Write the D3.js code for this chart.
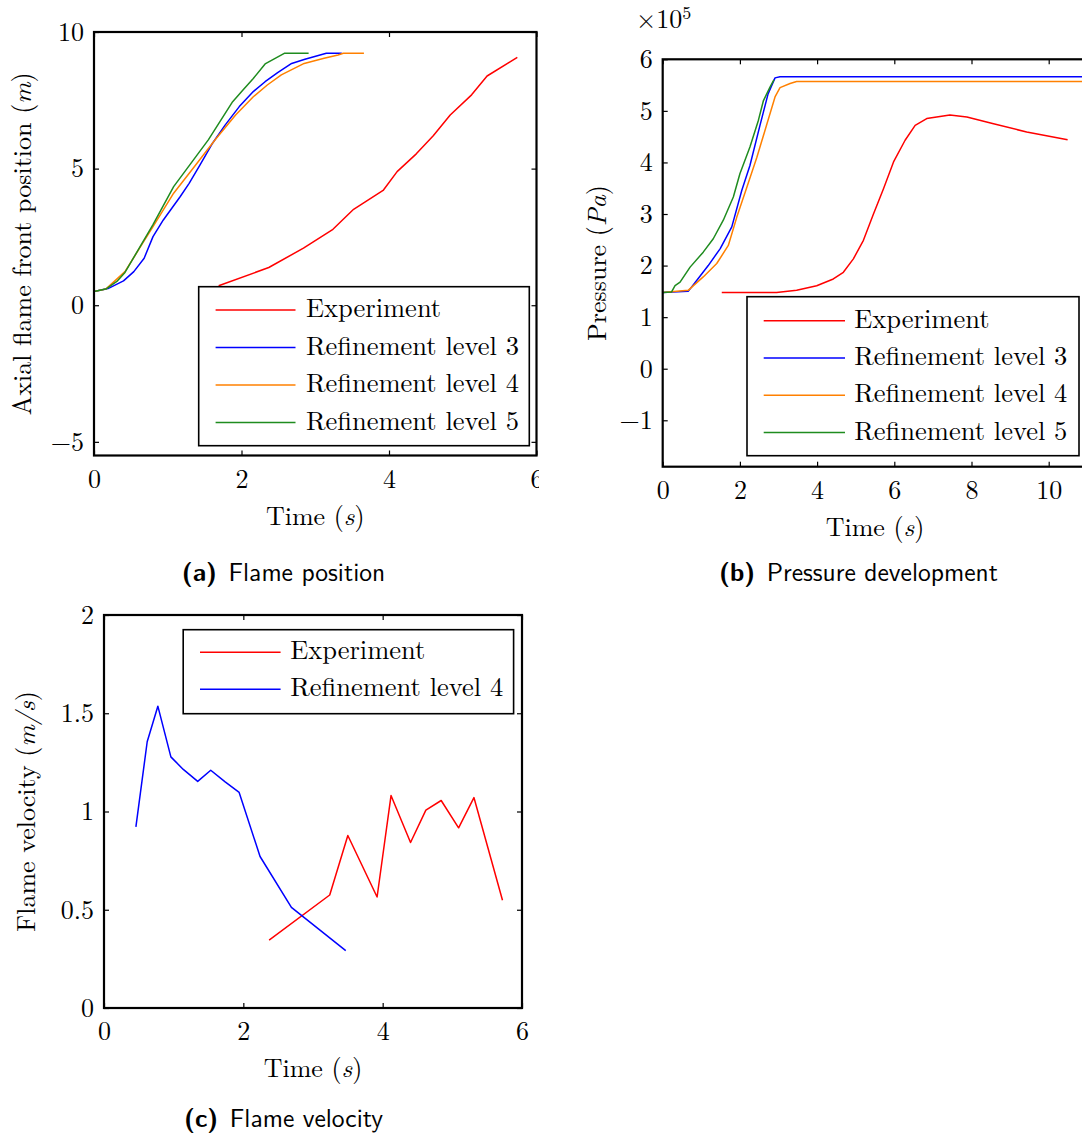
<!DOCTYPE html>
<html>
<head>
<meta charset="utf-8">
<script src="https://cdn.jsdelivr.net/npm/d3@7"></script>
<style>
  html, body { margin: 0; padding: 0; background: #fff; overflow: hidden; }
  svg { display: block; }
</style>
</head>
<body>
<svg id="fig" width="1082" height="1135"></svg>
<script>
// ---- Flame position (m) versus time (s) ----
const posExperimentT = [1.69, 2.37, 2.84, 3.24, 3.52, 3.92, 4.11, 4.37, 4.60, 4.83, 5.12, 5.33, 5.74];
const posExperimentY = [0.71, 1.38, 2.09, 2.78, 3.51, 4.20, 4.89, 5.54, 6.20, 6.96, 7.70, 8.39, 9.07];
const posLevel3T = [0, 0.19, 0.40, 0.54, 0.68, 0.80, 0.94, 1.17, 1.29, 1.43, 1.60, 1.78, 1.97, 2.16, 2.32, 2.49, 2.68, 2.86, 3.15, 3.36];
const posLevel3Y = [0.50, 0.61, 0.89, 1.23, 1.72, 2.51, 3.12, 3.98, 4.46, 5.10, 5.90, 6.60, 7.27, 7.82, 8.18, 8.51, 8.85, 9.00, 9.22, 9.22];
const posLevel4T = [0, 0.16, 0.42, 0.66, 0.80, 1.08, 1.36, 1.64, 1.92, 2.16, 2.35, 2.54, 2.85, 3.12, 3.31, 3.38, 3.66];
const posLevel4Y = [0.50, 0.59, 1.23, 2.27, 2.88, 4.10, 5.07, 6.05, 6.96, 7.63, 8.06, 8.43, 8.85, 9.04, 9.16, 9.22, 9.22];
const posLevel5T = [0, 0.16, 0.31, 0.42, 0.80, 1.08, 1.55, 1.88, 2.02, 2.16, 2.32, 2.58, 2.91];
const posLevel5Y = [0.50, 0.59, 0.87, 1.20, 2.95, 4.34, 6.05, 7.45, 7.88, 8.30, 8.83, 9.22, 9.22];

// ---- Pressure (x10^5 Pa) versus time (s) ----
const presExperimentT = [1.53, 2.95, 3.47, 3.99, 4.42, 4.68, 4.94, 5.20, 5.46, 5.72, 5.98, 6.28, 6.54, 6.84, 7.44, 7.88, 8.57, 9.43, 10.49];
const presExperimentP = [1.48, 1.48, 1.52, 1.61, 1.74, 1.87, 2.13, 2.49, 3.00, 3.49, 4.01, 4.43, 4.72, 4.85, 4.92, 4.88, 4.75, 4.59, 4.44];
const presLevel3T = [0, 0.66, 0.88, 1.18, 1.49, 1.79, 2.05, 2.26, 2.52, 2.73, 2.91, 3.04, 11];
const presLevel3P = [1.48, 1.50, 1.71, 2.00, 2.33, 2.75, 3.46, 3.94, 4.72, 5.33, 5.64, 5.66, 5.66];
const presLevel4T = [0, 0.66, 1.05, 1.40, 1.70, 1.92, 2.18, 2.44, 2.69, 2.91, 3.04, 3.30, 3.47, 11];
const presLevel4P = [1.48, 1.52, 1.78, 2.04, 2.39, 2.94, 3.52, 4.10, 4.72, 5.27, 5.45, 5.53, 5.57, 5.57];
const presLevel5T = [0, 0.23, 0.32, 0.45, 0.71, 1.05, 1.31, 1.57, 1.83, 2.00, 2.26, 2.48, 2.61, 2.78, 2.88];
const presLevel5P = [1.48, 1.49, 1.61, 1.68, 1.97, 2.26, 2.52, 2.88, 3.33, 3.78, 4.30, 4.82, 5.20, 5.46, 5.60];

// ---- Flame velocity (m/s) versus time (s) ----
const velExperimentT = [2.37, 3.24, 3.50, 3.92, 4.12, 4.40, 4.62, 4.84, 5.09, 5.31, 5.72];
const velExperimentV = [0.345, 0.575, 0.878, 0.565, 1.081, 0.842, 1.007, 1.056, 0.917, 1.071, 0.548];
const velLevel4T = [0.458, 0.62, 0.773, 0.96, 1.138, 1.345, 1.532, 1.739, 1.94, 2.24, 2.69, 3.47];
const velLevel4V = [0.922, 1.355, 1.536, 1.278, 1.214, 1.153, 1.21, 1.151, 1.097, 0.771, 0.512, 0.292];

// ---- Tick values ----
const posTicksX = [0, 2, 4, 6];
const posTicksY = [-5, 0, 5, 10];
const presTicksX = [0, 2, 4, 6, 8, 10];
const presTicksY = [-1, 0, 1, 2, 3, 4, 5, 6];
const velTicksX = [0, 2, 4, 6];
const velTicksY = [0, 0.5, 1, 1.5, 2];

// ---- Series names ----
const seriesNames = ["Experiment", "Refinement level 3", "Refinement level 4", "Refinement level 5"];
const velSeriesNames = ["Experiment", "Refinement level 4"];

const COLORS = { exp: "#ff0000", l3: "#0000ff", l4: "#ff8000", l5: "#1f8c1f" };
const SERIF = "'Latin Modern Roman','CMU Serif','Liberation Serif','Times New Roman',serif";
const SANS = "'Latin Modern Sans','CMU Sans Serif','Liberation Sans',Arial,sans-serif";
const FS = 26;

const svg = d3.select("#fig");
const zip = (a, b) => a.map((v, i) => [v, b[i]]);
const fmt = d3.format("~g");

function drawPanel(o) {
  const root = svg.append("g");
  if (o.clipRight) {
    const id = "clip-" + o.id;
    svg.append("defs").append("clipPath").attr("id", id)
      .append("rect").attr("x", 0).attr("y", 0).attr("width", o.clipRight).attr("height", 1135);
    root.attr("clip-path", `url(#${id})`);
  }
  const x = d3.scaleLinear().domain(o.xDomain).range([o.left, o.right]);
  const y = d3.scaleLinear().domain(o.yDomain).range([o.bottom, o.top]);

  // data lines, clipped to the axes box
  const pid = "plot-" + o.id;
  svg.append("defs").append("clipPath").attr("id", pid)
    .append("rect").attr("x", o.left).attr("y", o.top)
    .attr("width", o.right - o.left).attr("height", o.bottom - o.top);
  const line = d3.line().x(d => x(d[0])).y(d => y(d[1]));
  const lines = root.append("g").attr("clip-path", `url(#${pid})`);
  o.series.forEach(s => {
    lines.append("path").attr("d", line(s.data))
      .attr("fill", "none").attr("stroke", s.color).attr("stroke-width", 1.5)
      .attr("stroke-linejoin", "round");
  });

  // axes with inward ticks on all four sides
  const tick = 5;
  const axisStyle = g => {
    g.select(".domain").remove();
    g.selectAll("line").attr("stroke", "#000").attr("stroke-width", 1.2);
    g.selectAll("text").attr("font-family", SERIF).attr("font-size", FS).attr("fill", "#000");
  };
  root.append("g").attr("transform", `translate(${o.left},0)`)
    .call(d3.axisLeft(y).tickValues(o.yTicks).tickFormat(fmt).tickSize(-tick).tickPadding(10))
    .call(axisStyle);
  root.append("g").attr("transform", `translate(${o.right},0)`)
    .call(d3.axisRight(y).tickValues(o.yTicks).tickFormat("").tickSize(-tick))
    .call(axisStyle);
  root.append("g").attr("transform", `translate(0,${o.bottom})`)
    .call(d3.axisBottom(x).tickValues(o.xTicks).tickFormat(fmt).tickSize(-tick).tickPadding(14))
    .call(axisStyle);
  root.append("g").attr("transform", `translate(0,${o.top})`)
    .call(d3.axisTop(x).tickValues(o.xTicks).tickFormat("").tickSize(-tick))
    .call(axisStyle);

  // axes box
  root.append("rect").attr("x", o.left).attr("y", o.top)
    .attr("width", o.right - o.left).attr("height", o.bottom - o.top)
    .attr("fill", "none").attr("stroke", "#000").attr("stroke-width", 2.2);

  // x label
  const xl = root.append("text").attr("x", (o.left + o.right) / 2).attr("y", o.bottom + 69)
    .attr("text-anchor", "middle").attr("font-family", SERIF).attr("font-size", FS);
  xl.append("tspan").text("Time (");
  xl.append("tspan").attr("font-style", "italic").text("s");
  xl.append("tspan").text(")");

  // y label
  const yl = root.append("text")
    .attr("transform", `translate(${o.yLabelX},${(o.top + o.bottom) / 2}) rotate(-90)`)
    .attr("text-anchor", "middle").attr("font-family", SERIF).attr("font-size", FS);
  o.yLabel.forEach(p => {
    const t = yl.append("tspan").text(p[0]);
    if (p[1]) t.attr("font-style", "italic");
  });

  // legend
  const L = o.legend;
  const lg = root.append("g");
  lg.append("rect").attr("x", L.x0).attr("y", L.y0).attr("width", L.x1 - L.x0).attr("height", L.y1 - L.y0)
    .attr("fill", "#fff").attr("stroke", "#000").attr("stroke-width", 1.6);
  o.series.forEach((s, i) => {
    const yy = L.firstY + i * L.step;
    lg.append("line").attr("x1", L.lineX0).attr("x2", L.lineX1).attr("y1", yy).attr("y2", yy)
      .attr("stroke", s.color).attr("stroke-width", 1.5);
    lg.append("text").attr("x", L.textX).attr("y", yy + 7)
      .attr("font-family", SERIF).attr("font-size", 26.5).text(s.name);
  });

  // caption
  const cap = root.append("text").attr("x", o.capX).attr("y", o.capY)
    .attr("text-anchor", "middle").attr("font-family", SANS).attr("font-size", 25.5);
  cap.append("tspan").attr("font-weight", "bold").text(o.capLabel);
  cap.append("tspan").attr("dx", 3).text(" " + o.capText);

  return { x, y, root };
}

// (a) Flame position
drawPanel({
  id: "a", left: 94, right: 536.5, top: 32, bottom: 455.5, clipRight: 539,
  xDomain: [0, 6], yDomain: [-5.5, 10], xTicks: posTicksX, yTicks: posTicksY,
  yLabelX: 31, yLabel: [["Axial flame front position ("], ["m", true], [")"]],
  series: [
    { name: seriesNames[0], color: COLORS.exp, data: zip(posExperimentT, posExperimentY) },
    { name: seriesNames[1], color: COLORS.l3, data: zip(posLevel3T, posLevel3Y) },
    { name: seriesNames[2], color: COLORS.l4, data: zip(posLevel4T, posLevel4Y) },
    { name: seriesNames[3], color: COLORS.l5, data: zip(posLevel5T, posLevel5Y) }
  ],
  legend: { x0: 198.7, x1: 529.3, y0: 286.7, y1: 445.7, firstY: 310, step: 37.5, lineX0: 215.6, lineX1: 295.5, textX: 306 },
  capX: 283.5, capY: 581, capLabel: "(a)", capText: "Flame position"
});

// (b) Pressure development
const pb = drawPanel({
  id: "b", left: 662.7, right: 1087.3, top: 59.3, bottom: 466.7,
  xDomain: [0, 11], yDomain: [-1.9, 6], xTicks: presTicksX, yTicks: presTicksY,
  yLabelX: 606, yLabel: [["Pressure ("], ["Pa", true], [")"]],
  series: [
    { name: seriesNames[0], color: COLORS.exp, data: zip(presExperimentT, presExperimentP) },
    { name: seriesNames[1], color: COLORS.l3, data: zip(presLevel3T, presLevel3P) },
    { name: seriesNames[2], color: COLORS.l4, data: zip(presLevel4T, presLevel4P) },
    { name: seriesNames[3], color: COLORS.l5, data: zip(presLevel5T, presLevel5P) }
  ],
  legend: { x0: 747, x1: 1079, y0: 296.7, y1: 455.7, firstY: 320.7, step: 37.3, lineX0: 763.7, lineX1: 845, textX: 854.3 },
  capX: 858.5, capY: 581, capLabel: "(b)", capText: "Pressure development"
});
// exponent marker for the pressure axis
const ex = pb.root.append("text").attr("x", 636).attr("y", 28)
  .attr("font-family", SERIF).attr("font-size", FS);
ex.append("tspan").text("\u00d710");
ex.append("tspan").attr("font-size", 18).attr("dy", -9).text("5");

// (c) Flame velocity
drawPanel({
  id: "c", left: 104, right: 522, top: 615, bottom: 1008,
  xDomain: [0, 6], yDomain: [0, 2], xTicks: velTicksX, yTicks: velTicksY,
  yLabelX: 35, yLabel: [["Flame velocity ("], ["m/s", true], [")"]],
  series: [
    { name: velSeriesNames[0], color: COLORS.exp, data: zip(velExperimentT, velExperimentV) },
    { name: velSeriesNames[1], color: COLORS.l3, data: zip(velLevel4T, velLevel4V) }
  ],
  legend: { x0: 183.2, x1: 513.6, y0: 629.7, y1: 713.7, firstY: 652.3, step: 37, lineX0: 200, lineX1: 280.6, textX: 290.2 },
  capX: 283.5, capY: 1127, capLabel: "(c)", capText: "Flame velocity"
});
</script>
</body>
</html>
